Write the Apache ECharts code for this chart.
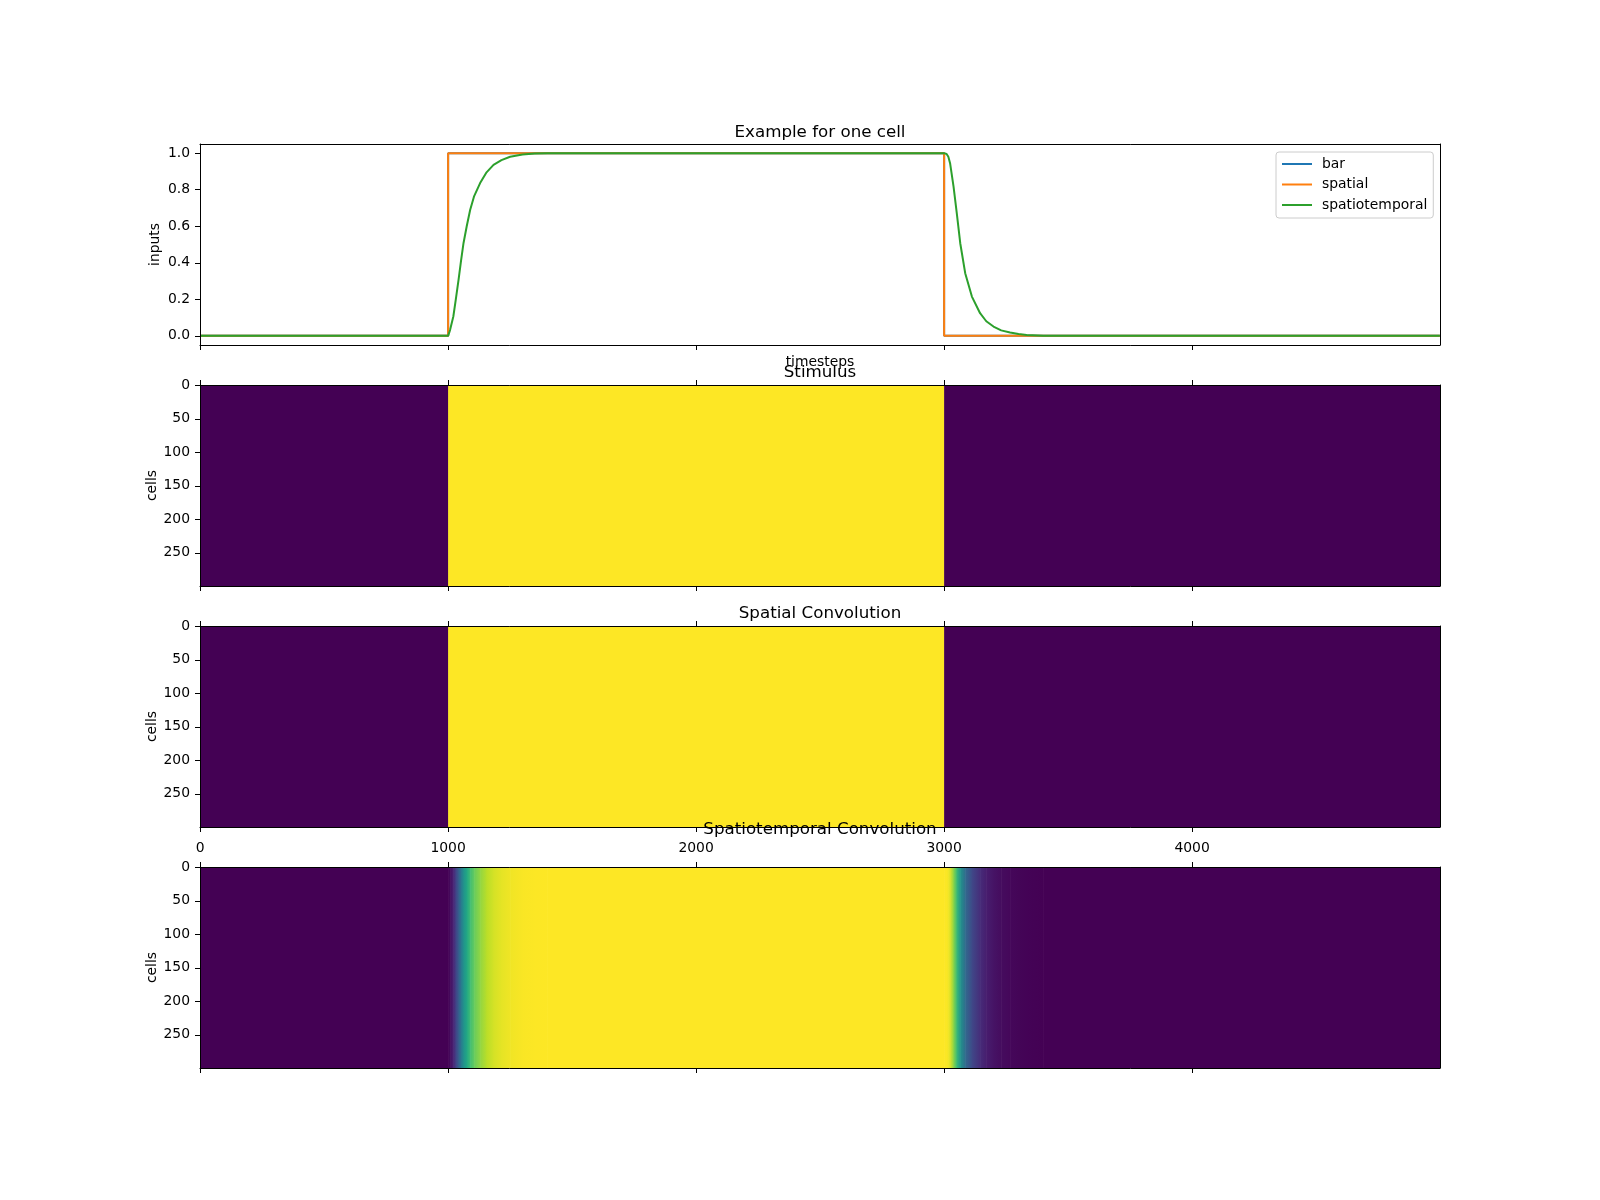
<!DOCTYPE html>
<html><head><meta charset="utf-8">
<script src="https://cdn.jsdelivr.net/npm/echarts@6/dist/echarts.min.js"></script>
<style>html,body{margin:0;padding:0;background:#fff}#c{width:1600px;height:1200px}</style>
</head><body><div id="c"></div>
<script>
// ---- data ----
const xTicks = [0, 1000, 2000, 3000, 4000];
const inputTicks = [0, 0.2, 0.4, 0.6, 0.8, 1.0];
const cellTicks = [0, 50, 100, 150, 200, 250];
const nCells = 300;
const seriesNames = ['bar', 'spatial', 'spatiotemporal'];
const panelTitles = ['Example for one cell', 'Stimulus', 'Spatial Convolution', 'Spatiotemporal Convolution'];

const barT = [0, 1000, 1000, 3000, 3000, 4999];
const barV = [0, 0, 1, 1, 0, 0];
const spatialT = [0, 1000, 1000, 3000, 3000, 4999];
const spatialV = [0, 0, 1, 1, 0, 0];
const stT = [0, 1000, 1008, 1021, 1031, 1042, 1052, 1062, 1075, 1089, 1105, 1129, 1155, 1183, 1215, 1250, 1300, 1350, 1400,
             3000, 3010, 3017, 3024, 3038, 3051, 3065, 3085, 3112, 3145, 3170, 3199, 3230, 3266, 3300, 3333, 3400, 4999];
const stV = [0, 0, 0.033, 0.106, 0.2, 0.307, 0.41, 0.507, 0.6, 0.69, 0.765, 0.836, 0.895, 0.936, 0.962, 0.98, 0.993, 0.998, 1.0,
             1.0, 0.995, 0.98, 0.945, 0.817, 0.672, 0.507, 0.343, 0.215, 0.124, 0.08, 0.051, 0.03, 0.018, 0.01, 0.005, 0.0, 0];

const viridis = ['#440154', '#482475', '#414487', '#355f8d', '#2a788e', '#21918c', '#22a884', '#44bf70', '#7ad151', '#bddf26', '#fde725'];
const lineColors = ['#1f77b4', '#ff7f0e', '#2ca02c'];

// ---- layout ----
const FONT = 'DejaVu Sans';
const gridTops = [144, 385, 626, 867];
const gridH = 201, gridL = 200, gridW = 1240;
const titleY = [132.2, 372.7, 613.2, 830];

const chart = echarts.init(document.getElementById('c'), null, {renderer: 'canvas'});

const grids = gridTops.map(t => ({left: gridL, top: t, width: gridW, height: gridH, show: false, containLabel: false, outerBoundsMode: 'none'}));

const tickStyle = {color: '#000', width: 1};
const labelStyle = {fontFamily: FONT, fontSize: 13.9, color: '#000'};

const xAxes = [], yAxes = [];
for (let g = 0; g < 4; g++) {
  xAxes.push({
    gridIndex: g, type: 'value', min: -0.5, max: 4999.5, position: 'bottom', z: 5,
    axisLine: {show: true, onZero: false, lineStyle: tickStyle},
    axisTick: {show: true, inside: false, length: 5, customValues: xTicks, lineStyle: tickStyle},
    axisLabel: Object.assign({show: g === 2, customValues: xTicks, margin: 14, formatter: v => String(v)}, labelStyle),
    splitLine: {show: false},
    name: g === 0 ? 'timesteps' : '', nameLocation: 'middle', nameGap: 10, nameMoveOverlap: false,
    nameTextStyle: labelStyle
  });
  xAxes.push({
    gridIndex: g, type: 'value', min: -0.5, max: 4999.5, position: 'top', z: 5,
    axisLine: {show: true, onZero: false, lineStyle: tickStyle},
    axisTick: {show: g > 0, inside: false, length: 5, customValues: xTicks, lineStyle: tickStyle},
    axisLabel: {show: false},
    splitLine: {show: false}
  });
  const isLine = g === 0;
  yAxes.push({
    gridIndex: g, type: 'value', position: 'left', z: 5,
    min: isLine ? -0.05 : -0.5, max: isLine ? 1.05 : nCells - 0.5, inverse: !isLine,
    axisLine: {show: true, onZero: false, lineStyle: tickStyle},
    axisTick: {show: true, inside: false, length: 5, customValues: isLine ? inputTicks : cellTicks, lineStyle: tickStyle},
    axisLabel: Object.assign({show: true, margin: 10, customValues: isLine ? inputTicks : cellTicks,
      formatter: v => isLine ? Number(v).toFixed(1) : String(v)}, labelStyle),
    splitLine: {show: false},
    name: isLine ? 'inputs' : 'cells', nameLocation: 'middle', nameRotate: 90, nameGap: isLine ? 38 : 41,
    nameMoveOverlap: false,
    nameTextStyle: labelStyle
  });
  yAxes.push({
    gridIndex: g, type: 'value', position: 'right', z: 5,
    min: isLine ? -0.05 : -0.5, max: isLine ? 1.05 : nCells - 0.5, inverse: !isLine,
    axisLine: {show: true, onZero: false, lineStyle: tickStyle},
    axisTick: {show: false}, axisLabel: {show: false}, splitLine: {show: false}
  });
}

// line series (panel 1)
const lineData = [[barT, barV], [spatialT, spatialV], [stT, stV]];
const series = lineData.map((d, i) => ({
  name: seriesNames[i], type: 'line', xAxisIndex: 0, yAxisIndex: 0,
  data: d[0].map((t, k) => [t, d[1][k]]),
  symbol: 'none', showSymbol: false, smooth: false,
  lineStyle: {width: 2, color: lineColors[i]}, itemStyle: {color: lineColors[i]},
  color: lineColors[i], z: 2 + i, clip: true
}));

// heatmap panels: each cell row shares the same time profile
function colorOf(v) { return echarts.color.lerp(Math.max(0, Math.min(1, v)), viridis); }
function segments(T, V) {
  const out = [];
  for (let k = 0; k < T.length - 1; k++) out.push([T[k], T[k + 1], V[k], V[k + 1], k === 0 ? 1 : 0, k === T.length - 2 ? 1 : 0]);
  return out;
}
const heatProfiles = [[barT, barV], [spatialT, spatialV], [stT, stV]];
heatProfiles.forEach((p, i) => {
  const g = i + 1;
  series.push({
    type: 'custom', coordinateSystem: 'cartesian2d', xAxisIndex: 2 * g, yAxisIndex: 2 * g,
    data: segments(p[0], p[1]), silent: true, z: 1,
    renderItem: function (params, api) {
      const t0 = api.value(0), t1 = api.value(1), v0 = api.value(2), v1 = api.value(3);
      const first = api.value(4), last = api.value(5);
      const cs = params.coordSys;
      const a = api.coord([t0, -0.5]), b = api.coord([t1, nCells - 0.5]);
      let x0 = first ? cs.x : a[0];
      let x1 = last ? cs.x + cs.width : b[0];
      if (x1 - x0 <= 0) return null;
      const x1e = Math.min(cs.x + cs.width, x1 + 0.6);
      return {
        type: 'rect',
        shape: {x: x0, y: cs.y, width: x1e - x0, height: cs.height},
        style: {fill: new echarts.graphic.LinearGradient(0, 0, 1, 0, [
          {offset: 0, color: colorOf(v0)}, {offset: 1, color: colorOf(v1)}])}
      };
    }
  });
});

const titles = panelTitles.map((t, i) => ({
  text: t, left: gridL + gridW / 2, top: titleY[i], textAlign: 'center', textVerticalAlign: 'middle', padding: 0,
  textStyle: {fontFamily: FONT, fontSize: 16.7, fontWeight: 'normal', color: '#000'}
}));

chart.setOption({
  animation: false,
  backgroundColor: '#fff',
  title: titles,
  grid: grids,
  xAxis: xAxes,
  yAxis: yAxes,
  legend: {
    data: seriesNames, orient: 'vertical', left: 1276, top: 152,
    itemWidth: 30, itemHeight: 14, itemGap: 6.5, padding: [5, 6, 6, 5],
    itemStyle: {opacity: 0, borderWidth: 0},
    lineStyle: {width: 2},
    borderColor: '#cccccc', borderWidth: 1, borderRadius: 3, backgroundColor: 'rgba(255,255,255,0.8)',
    textStyle: {fontFamily: FONT, fontSize: 13.9, color: '#000', padding: [0, 0, 0, 5]},
    selectedMode: false
  },
  series: series
});
</script></body></html>
